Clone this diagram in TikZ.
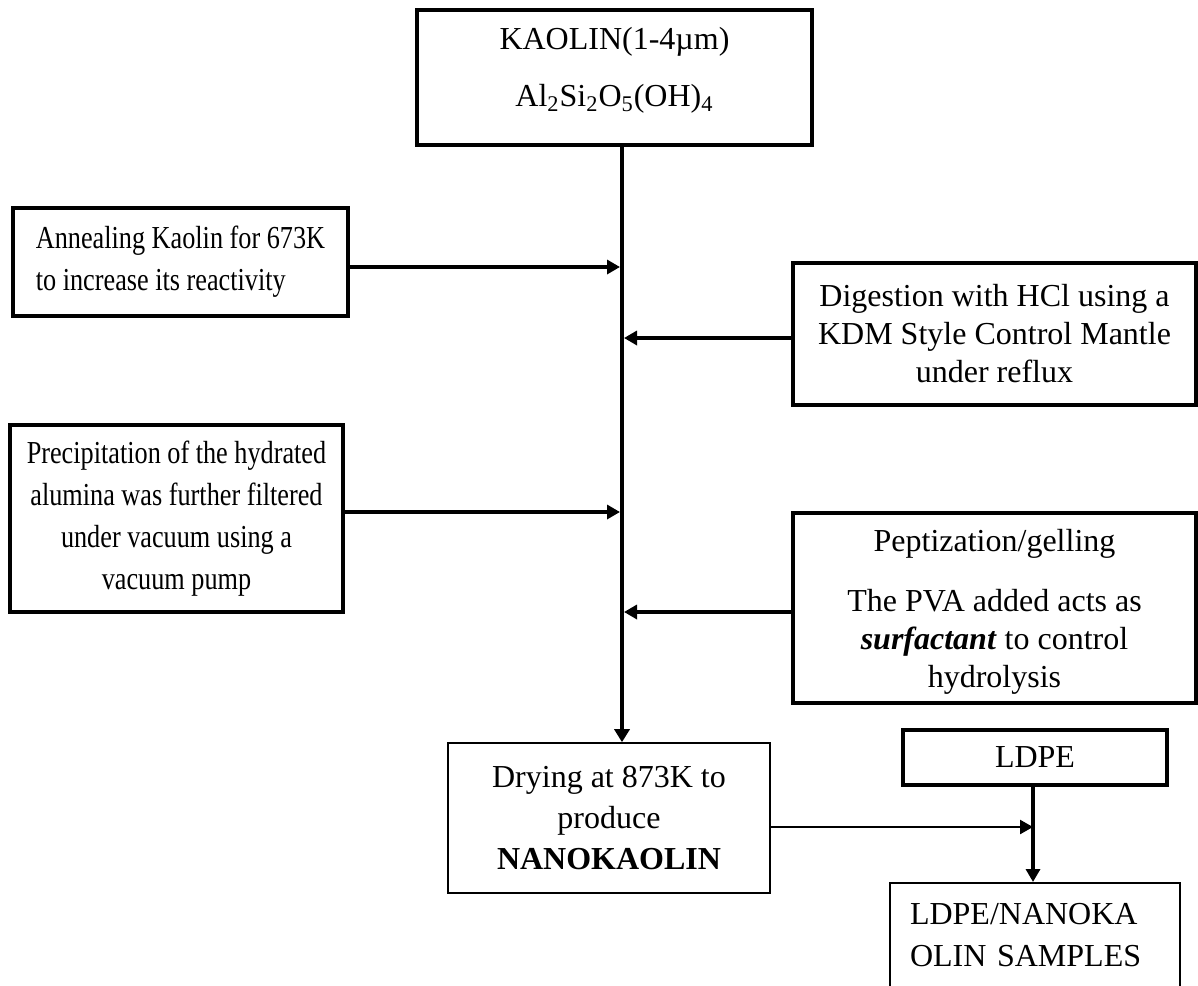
\documentclass[tikz,border=0pt]{standalone}
\usepackage{fontspec}
\setmainfont{Liberation Serif}
\newfontfamily\narrowserif[FakeStretch=0.82]{Liberation Serif}
\usetikzlibrary{arrows.meta}

\begin{document}
\begin{tikzpicture}[x=0.5pt, y=-0.5pt,
    thickbox/.style={draw, line width=2pt, inner sep=0pt, align=center},
    thinbox/.style={draw, line width=0.8pt, inner sep=0pt, align=center},
    big/.style={font=\fontsize{16}{19}\selectfont},
    small/.style={font=\narrowserif\fontsize{16}{21}\selectfont},
    flow/.style={line width=1.8pt, -{Triangle[length=6.5pt,width=7pt]}}]
    % page
    \clip (0,0) rectangle (1198,985);
    % coordinates
    \coordinate (spine) at (622,0);
    \coordinate (in-anneal) at (620,267);
    \coordinate (in-digest) at (624,338);
    \coordinate (in-precip) at (620,512);
    \coordinate (in-pept) at (624,612);
    \coordinate (join) at (1033,827);
    % raw material
    \node[thickbox, big, minimum width=197.5pt, minimum height=67.5pt, text depth=11pt] (kaolin) at (614.5,77.5)
        {KAOLIN(1-4µm)\\[9.5pt] Al\textsubscript{2}Si\textsubscript{2}O\textsubscript{5}(OH)\textsubscript{4}};
    % left steps
    \node[thickbox, small, minimum width=167.5pt, minimum height=54pt, align=left, xshift=-2pt] (anneal) at (184.5,262)
        {Annealing Kaolin for 673K\\ to increase its reactivity};
    \node[thickbox, small, minimum width=166.5pt, minimum height=93.5pt] (precip) at (176.5,518.5)
        {Precipitation of the hydrated\\ alumina was further filtered\\ under vacuum using a\\ vacuum pump};
    % right steps
    \node[thickbox, big, minimum width=201.5pt, minimum height=71pt] (digest) at (994.5,334)
        {Digestion with HCl using a\\ KDM Style Control Mantle\\ under reflux};
    \node[thickbox, big, minimum width=201.5pt, minimum height=95pt, text depth=-3.5pt] (pept) at (994.5,608)
        {Peptization/gelling\\[11pt] The PVA added acts as\\ \textbf{\textit{surfactant}} to control\\ hydrolysis};
    % product
    \node[thinbox, big, minimum width=161pt, minimum height=75pt, font=\fontsize{16}{20.5}\selectfont] (drying) at (609,818)
        {Drying at 873K to\\ produce\\ \textbf{NANOKAOLIN}};
    \node[thickbox, big, minimum width=132pt, minimum height=27.5pt] (ldpe) at (1035,757.5) {LDPE};
    \node[thinbox, big, anchor=north, minimum width=145pt, minimum height=52pt, inner xsep=10pt, text width=125pt, align=left,
        font=\fontsize{16}{21}\selectfont] (samples) at (1035,882)
        {LDPE/NANOKA\\ OLIN SAMPLES};
    % main line
    \draw[line width=2pt, -{Triangle[length=6.5pt,width=7.5pt]}] (kaolin.south -| spine) -- (drying.north -| spine);
    % side inputs
    \draw[flow] (anneal.east |- in-anneal) -- (in-anneal);
    \draw[flow] (digest.west |- in-digest) -- (in-digest);
    \draw[flow] (precip.east |- in-precip) -- (in-precip);
    \draw[flow] (pept.west |- in-pept) -- (in-pept);
    % blending
    \draw[flow, line width=1.2pt] (drying.east |- join) -- (join);
    \draw[flow, line width=2pt] (ldpe.south -| join) -- (samples.north -| join);
\end{tikzpicture}
\end{document}
